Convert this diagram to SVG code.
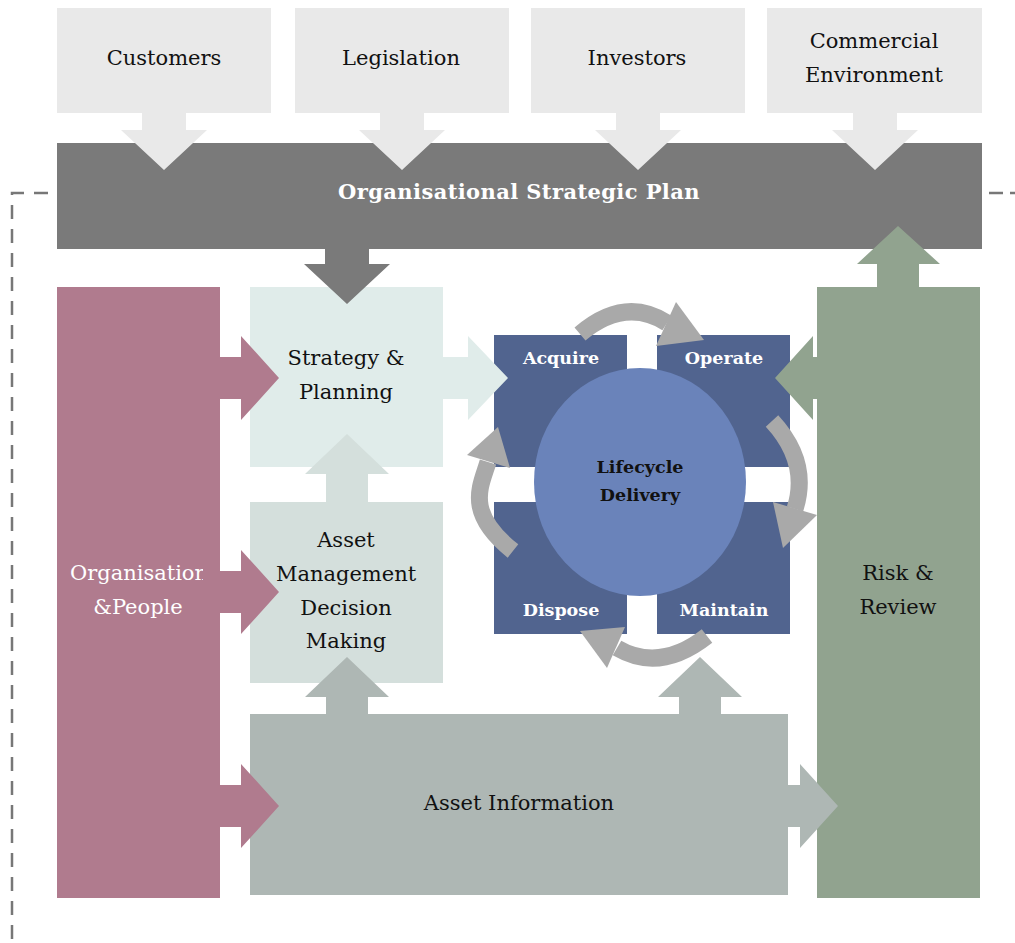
<svg xmlns="http://www.w3.org/2000/svg" width="1015" height="943" viewBox="0 0 1015 943">
<style>
.t{font-family:"DejaVu Serif","Liberation Serif",serif;font-size:21px;fill:#111;text-anchor:middle}
.b{font-family:"DejaVu Serif","Liberation Serif",serif;font-weight:bold;text-anchor:middle}
.w{fill:#fff}
.cyc{fill:none;stroke:#a9a9a9;stroke-width:17}
.hd{fill:#a9a9a9}
</style>
<defs>
<clipPath id="orgclip"><rect x="57" y="287" width="146" height="611"/></clipPath>
</defs>
<rect width="1015" height="943" fill="#fff"/>

<g id="dashed-loop">
<path d="M48 193 H12 V943" fill="none" stroke="#777" stroke-width="2.5" stroke-dasharray="14 10"/>
<path d="M989 193 H1015" fill="none" stroke="#777" stroke-width="2.5" stroke-dasharray="14 7"/>
</g>

<g id="customers"><rect x="57" y="8" width="214" height="105" fill="#e9e9e9"/><text class="t" x="164" y="65">Customers</text></g>
<g id="legislation"><rect x="295" y="8" width="214" height="105" fill="#e9e9e9"/><text class="t" x="401" y="65">Legislation</text></g>
<g id="investors"><rect x="531" y="8" width="214" height="105" fill="#e9e9e9"/><text class="t" x="637" y="65">Investors</text></g>
<g id="commercial"><rect x="767" y="8" width="215" height="105" fill="#e9e9e9"/><text class="t" x="874" y="48">Commercial</text><text class="t" x="874" y="82">Environment</text></g>

<g id="strategic-plan"><rect x="57" y="143" width="925" height="106" fill="#7a7a7a"/><text class="b w" x="519" y="199" font-size="21" letter-spacing="0.4">Organisational Strategic Plan</text></g>

<g id="organisation"><rect x="57" y="287" width="163" height="611" fill="#b07b8e"/>
<g clip-path="url(#orgclip)"><text class="t w" x="139" y="580">Organisation</text><text class="t w" x="138" y="614">&amp;People</text></g></g>

<g id="strategy"><rect x="250" y="287" width="193" height="180" fill="#e0ecea"/><text class="t" x="346" y="365">Strategy &amp;</text><text class="t" x="346" y="399">Planning</text></g>

<g id="decision"><rect x="250" y="502" width="193" height="181" fill="#d4dfdc"/><text class="t" x="346" y="547">Asset</text><text class="t" x="346" y="581">Management</text><text class="t" x="346" y="615">Decision</text><text class="t" x="346" y="648">Making</text></g>

<g id="asset-information"><rect x="250" y="714" width="538" height="181" fill="#aeb7b4"/><text class="t" x="519" y="810">Asset Information</text></g>

<g id="risk"><rect x="817" y="287" width="163" height="611" fill="#91a38f"/><text class="t" x="898" y="580">Risk &amp;</text><text class="t" x="898" y="614">Review</text></g>

<g id="acquire"><rect x="494" y="335" width="133" height="132" fill="#51648f"/><text class="b w" x="561" y="364" font-size="17.5">Acquire</text></g>
<g id="operate"><rect x="657" y="335" width="133" height="132" fill="#51648f"/><text class="b w" x="724" y="364" font-size="17.5">Operate</text></g>
<g id="dispose"><rect x="494" y="502" width="133" height="132" fill="#51648f"/><text class="b w" x="561" y="616" font-size="17.5">Dispose</text></g>
<g id="maintain"><rect x="657" y="502" width="133" height="132" fill="#51648f"/><text class="b w" x="724" y="616" font-size="17.5">Maintain</text></g>

<g id="lifecycle"><ellipse cx="640" cy="482" rx="106" ry="114" fill="#6a83ba"/><text class="b" x="640" y="473" font-size="17.5" fill="#111">Lifecycle</text><text class="b" x="640" y="501" font-size="17.5" fill="#111">Delivery</text></g>

<g id="connectors">
<polygon fill="#e9e9e9" points="142,113 186,113 186,130 207,130 164,170 121,130 142,130"/>
<polygon fill="#e9e9e9" points="380,113 424,113 424,130 445,130 402,170 359,130 380,130"/>
<polygon fill="#e9e9e9" points="616,113 660,113 660,130 681,130 638,170 595,130 616,130"/>
<polygon fill="#e9e9e9" points="853,113 897,113 897,130 918,130 875,170 832,130 853,130"/>
<polygon fill="#7a7a7a" points="325,249 369,249 369,264 390,264 347,304 304,264 325,264"/>
<polygon fill="#91a38f" points="877,287 919,287 919,264 940,264 898,226 857,264 877,264"/>
<polygon fill="#d4dfdc" points="326,502 368,502 368,474 389,474 347,434 305,474 326,474"/>
<polygon fill="#aeb7b4" points="326,714 368,714 368,697 389,697 347,657 305,697 326,697"/>
<polygon fill="#aeb7b4" points="679,714 721,714 721,697 742,697 700,657 658,697 679,697"/>
<polygon fill="#b07b8e" points="220,357 241,357 241,336 279,378 241,420 241,399 220,399"/>
<polygon fill="#b07b8e" points="220,571 241,571 241,550 279,592 241,634 241,613 220,613"/>
<polygon fill="#b07b8e" points="220,785 241,785 241,764 279,806 241,848 241,827 220,827"/>
<polygon fill="#e0ecea" points="443,357 468,357 468,336 508,378 468,420 468,399 443,399"/>
<polygon fill="#91a38f" points="817,357 813,357 813,336 775,378 813,420 813,399 817,399"/>
<polygon fill="#aeb7b4" points="788,785 800,785 800,764 838,806 800,848 800,827 788,827"/>
<path class="cyc" d="M580 334 Q625 296 667 323"/>
<polygon class="hd" points="676,302 704,340 656,346"/>
<path class="cyc" d="M772 421 Q810 462 795 509"/>
<polygon class="hd" points="773,502 817,515 783,548"/>
<path class="cyc" d="M707 636 Q660 673 617 648"/>
<polygon class="hd" points="625,627 607,668 580,631"/>
<path class="cyc" d="M513 551 C464 512 481 486 488 462"/>
<polygon class="hd" points="467,455 510,468 498,427"/>
</g>
</svg>
